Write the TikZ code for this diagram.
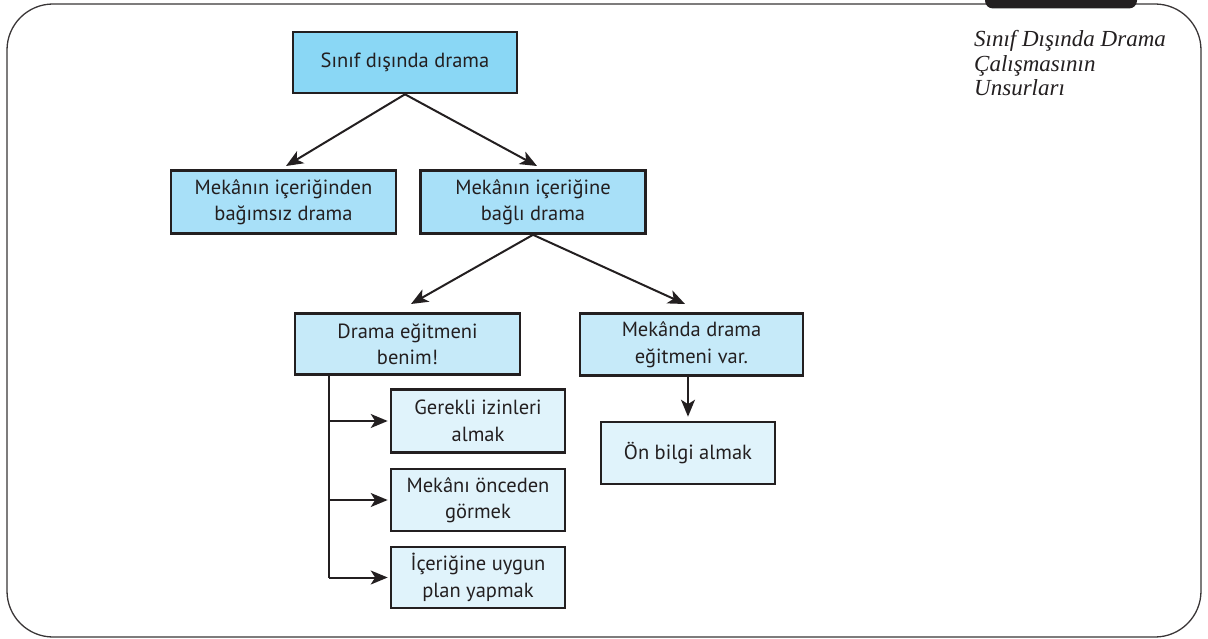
\documentclass[tikz,border=0pt]{standalone}
\usepackage{fontspec}
\setmainfont{PT Sans}
\newfontfamily\titlefont{Liberation Serif}
\usetikzlibrary{arrows.meta,calc}
\definecolor{ink}{HTML}{231F20}
\definecolor{cA}{HTML}{8AD7F5}
\definecolor{cB}{HTML}{A8E0F8}
\definecolor{cC}{HTML}{C6EAF9}
\definecolor{cD}{HTML}{E0F3FB}
\tikzset{
  box/.style={draw=ink, line width=2.6pt, text=ink, align=center, font=\fontsize{20.5}{26.5}\selectfont, inner sep=0pt},
  arr/.style={draw=ink, line width=2pt, -{Stealth[length=17pt,width=14pt,inset=4.5pt]}},
  ln/.style={draw=ink, line width=2pt},
}
\begin{document}
\begin{tikzpicture}[x=1pt,y=-1pt]
\useasboundingbox (0,0) rectangle (1208,639);
% frame
\draw[line width=1.3pt, draw=ink!90, rounded corners=46pt] (7,4) rectangle (1201,637);
% black tab
\fill[ink] (985,0) [rounded corners=8pt] -- (985,8.5) -- (1137,8.5) [sharp corners] -- (1137,0) -- cycle;
% title
\node[anchor=base west, align=left, text=ink, font=\titlefont\itshape\fontsize{23}{24.5}\selectfont, inner sep=0pt] (title) at (974,96) {Sınıf Dışında Drama\\Çalışmasının\\Unsurları};
% nodes
\node[box, fill=cA, minimum width=224pt, minimum height=61pt] (n1) at (405,62.5) {Sınıf dışında drama};
\node[box, fill=cB, minimum width=225pt, minimum height=63pt] (n2) at (283.5,202) {Mekânın içeriğinden\\bağımsız drama};
\node[box, fill=cB, minimum width=225pt, minimum height=63pt] (n3) at (533,202) {Mekânın içeriğine\\bağlı drama};
\node[box, fill=cC, minimum width=225pt, minimum height=61pt] (n4) at (407.5,344) {Drama eğitmeni\\benim!};
\node[box, fill=cC, minimum width=223pt, minimum height=62pt] (n5) at (691.5,344.5) {Mekânda drama\\eğitmeni var.};
\node[box, fill=cD, minimum width=174pt, minimum height=62pt] (n6) at (688,453) {Ön bilgi almak};
\node[box, fill=cD, minimum width=174pt, minimum height=63pt] (n7) at (478,421) {Gerekli izinleri\\almak};
\node[box, fill=cD, minimum width=174pt, minimum height=62pt] (n8) at (478,500) {Mekânı önceden\\görmek};
\node[box, fill=cD, minimum width=174pt, minimum height=61pt] (n9) at (478,577.5) {İçeriğine uygun\\plan yapmak};
% connectors
\coordinate (t2) at (286,166);
\coordinate (t3) at (537,166);
\draw[arr] (n1.south) -- (t2);
\draw[arr] (n1.south) -- (t3);
\coordinate (t4) at (411,304);
\coordinate (t5) at (685,304);
\draw[arr] (n3.south) -- (t4);
\draw[arr] (n3.south) -- (t5);
\draw[arr] (n5.south -| n6.north) -- ($(n6.north)+(0,-4)$);
\coordinate (v0) at (329,374.5);
\coordinate (v1) at (329,421);
\coordinate (v2) at (329,500);
\coordinate (v3) at (329,577.5);
\draw[ln] (v0) -- (v3);
\draw[arr] (v1) -- ($(n7.west)+(-2,0)$);
\draw[arr] (v2) -- ($(n8.west)+(-2,0)$);
\draw[arr] (v3) -- ($(n9.west)+(-2,0)$);
\end{tikzpicture}
\end{document}
